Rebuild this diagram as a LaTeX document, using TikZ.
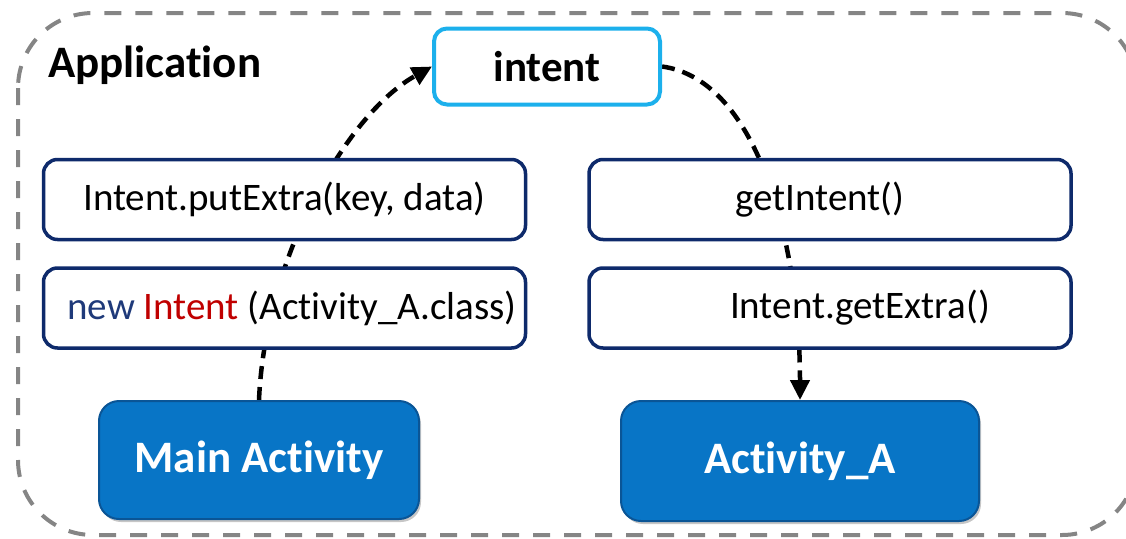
\documentclass[tikz,border=0pt]{standalone}
\usepackage{fontspec}
\setmainfont{Carlito}[RawFeature={-liga;-clig;-dlig}]
\usetikzlibrary{arrows.meta,backgrounds,shadows}
\definecolor{navy}{HTML}{0E2A6B}
\definecolor{cyanline}{HTML}{1CB0EC}
\definecolor{actblue}{HTML}{0875C6}
\definecolor{actedge}{HTML}{0A5596}
\definecolor{kwblue}{HTML}{1F3A7A}
\definecolor{kwred}{HTML}{C00000}
\definecolor{framegray}{HTML}{858585}
% keeps "t" and "i" as separate glyphs
\newcommand\tisep{t\kern0pt i}
\begin{document}
\begin{tikzpicture}[x=1pt,y=-1pt,
  codebox/.style={draw=navy, line width=3.5pt, fill=white, rounded corners=14pt,
    minimum width=482pt, minimum height=80pt, inner sep=0pt,
    font=\fontsize{39}{44}\selectfont},
  intentbox/.style={draw=cyanline, line width=4pt, fill=white, rounded corners=13pt,
    minimum width=226pt, minimum height=76pt, inner sep=0pt,
    font=\bfseries\fontsize{43}{48}\selectfont},
  actbox/.style={draw=actedge, line width=2pt, fill=actblue, rounded corners=20pt,
    inner sep=0pt, text=white, font=\bfseries\fontsize{45}{50}\selectfont,
    drop shadow={shadow xshift=2pt, shadow yshift=-3pt, opacity=0.45}},
  flow/.style={line width=4.5pt, dash pattern=on 13pt off 8pt,
    -{Triangle[length=20pt,width=19pt]}},
  frame/.style={draw=framegray, line width=4pt, dash pattern=on 17pt off 14pt,
    rounded corners=75pt}
]
\useasboundingbox (0,0) rectangle (1126,538);

% application frame
\draw[frame] (18,13) rectangle (1137,535);
\node[anchor=base west, inner sep=0pt, font=\bfseries\fontsize{45}{50}\selectfont]
  (app) at (48,77) {Applica\tisep on};

% intent object
\node[intentbox] (intent) at (547,66.5) {intent};

% sender side
\node[codebox] (put) at (284.5,199.5) {Intent.putExtra(key, data)};
\node[codebox] (newi) at (284.5,308)
  {\hspace*{15pt}\textcolor{kwblue}{new} \textcolor{kwred}{Intent} (Ac\tisep vity\_A.class)};
\node[actbox, minimum width=320pt, minimum height=118pt] (main) at (259,460) {Main Ac\tisep vity};

% receiver side
\node[codebox] (geti) at (830,199.5) {getIntent()\hspace*{20pt}};
\node[codebox] (getx) at (830,308) {\hspace*{60pt}Intent.getExtra()};
\node[actbox, minimum width=358pt, minimum height=120pt] (acta) at (800,461) {Ac\tisep vity\_A};

% data flow, passing behind the code boxes
\begin{pgfonlayer}{background}
  \draw[flow] (main.north) .. controls (265,260) and (345,115) .. (intent.west);
  \draw[flow] (intent.east) .. controls (760,80) and (800,250) .. (acta.north);
\end{pgfonlayer}
\end{tikzpicture}
\end{document}
